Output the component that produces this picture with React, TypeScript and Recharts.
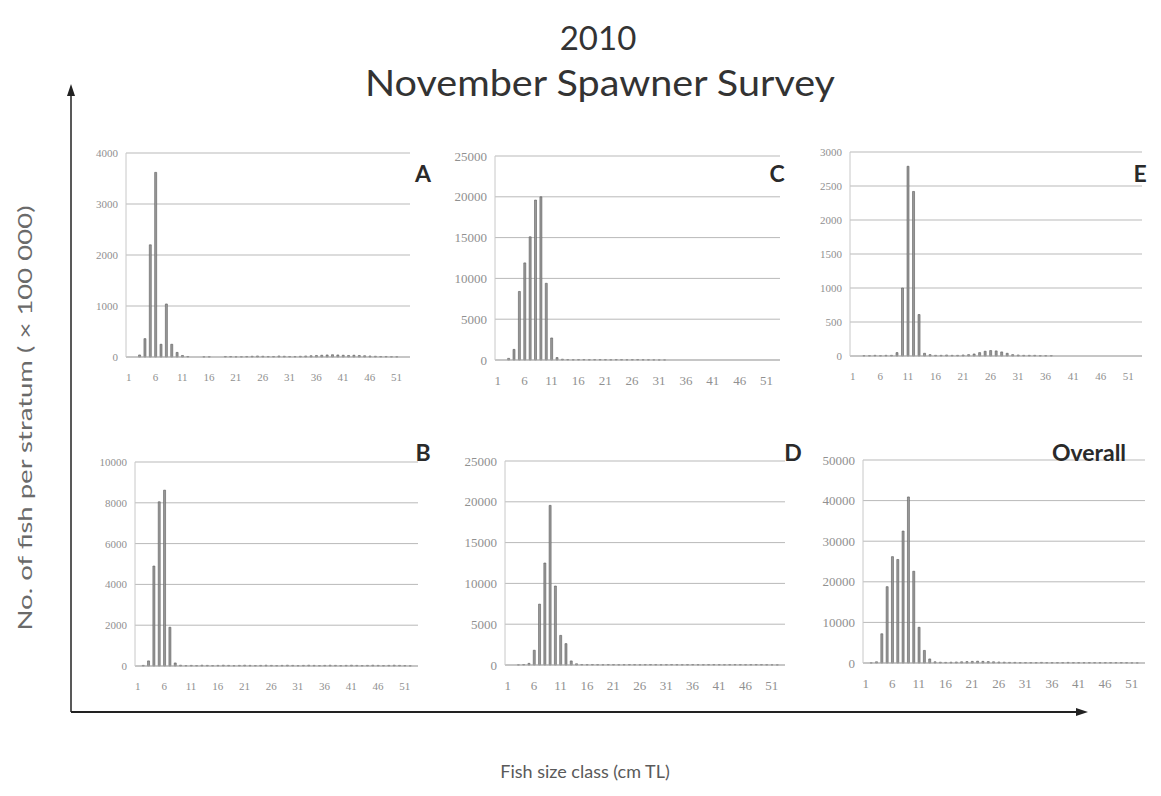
import React from 'react';
import { BarChart, Bar, XAxis, YAxis, CartesianGrid } from 'recharts';

// Fish size classes (cm TL)
const sizeClasses = [
  1, 2, 3, 4, 5, 6, 7, 8, 9, 10, 11, 12, 13, 14, 15, 16, 17, 18, 19, 20,
  21, 22, 23, 24, 25, 26, 27, 28, 29, 30, 31, 32, 33, 34, 35, 36, 37, 38, 39, 40,
  41, 42, 43, 44, 45, 46, 47, 48, 49, 50, 51, 52, 53,
];

// Stratum A (x 100 000 fish)
const stratumA = [
  0, 0, 40, 360, 2200, 3620, 250, 1040, 250, 90, 30, 10, 0, 0, 5, 5, 0, 0, 10, 10,
  5, 5, 10, 15, 20, 15, 10, 10, 20, 15, 10, 10, 15, 20, 25, 30, 35, 40, 45, 40,
  35, 30, 35, 30, 25, 20, 15, 10, 10, 5, 5, 0, 0,
];
// Stratum B
const stratumB = [
  0, 30, 250, 4900, 8050, 8620, 1900, 150, 40, 20, 30, 20, 40, 30, 20, 30, 40, 30, 20, 30,
  40, 30, 20, 30, 40, 30, 20, 30, 40, 30, 20, 30, 40, 30, 20, 30, 40, 30, 20, 30,
  40, 30, 20, 30, 40, 30, 20, 30, 40, 30, 20, 10, 0,
];
// Stratum C
const stratumC = [
  0, 0, 200, 1300, 8400, 11900, 15100, 19600, 20000, 9400, 2700, 300, 100, 60, 40, 50, 60, 40, 50, 60,
  50, 40, 60, 50, 40, 50, 60, 40, 30, 20, 10, 10, 0, 0, 0, 0, 0, 0, 0, 0,
  0, 0, 0, 0, 0, 0, 0, 0, 0, 0, 0, 0, 0,
];
// Stratum D
const stratumD = [
  0, 0, 20, 60, 200, 1810, 7460, 12500, 19560, 9680, 3630, 2620, 500, 150, 60, 50, 60, 50, 40, 60,
  50, 40, 50, 60, 50, 40, 50, 60, 50, 40, 50, 60, 50, 40, 50, 60, 50, 40, 50, 60,
  50, 40, 50, 60, 50, 40, 50, 60, 50, 40, 30, 20, 0,
];
// Stratum E
const stratumE = [
  0, 0, 5, 5, 10, 5, 10, 10, 50, 1000, 2790, 2420, 610, 40, 20, 10, 10, 15, 10, 10,
  15, 20, 30, 50, 70, 80, 75, 60, 40, 20, 15, 10, 10, 10, 5, 5, 5, 0, 0, 0,
  0, 0, 0, 0, 0, 0, 0, 0, 0, 0, 0, 0, 0,
];
// Overall
const overall = [
  0, 50, 300, 7200, 18800, 26200, 25500, 32500, 40900, 22600, 8800, 3100, 1000, 300, 200, 150, 200, 250, 300, 350,
  400, 450, 400, 350, 300, 250, 200, 150, 150, 100, 100, 100, 100, 150, 100, 100, 100, 100, 150, 100,
  100, 100, 100, 100, 100, 100, 100, 100, 100, 80, 50, 30, 0,
];

const ticksA = [0, 1000, 2000, 3000, 4000];
const ticksB = [0, 2000, 4000, 6000, 8000, 10000];
const ticksC = [0, 5000, 10000, 15000, 20000, 25000];
const ticksD = [0, 5000, 10000, 15000, 20000, 25000];
const ticksE = [0, 500, 1000, 1500, 2000, 2500, 3000];
const ticksOverall = [0, 10000, 20000, 30000, 40000, 50000];

const panelLetters = ['A', 'B', 'C', 'D', 'E', 'Overall'];

type PanelProps = {
  data: number[];
  ticks: number[];
  left: number;
  right: number;
  top: number;
  bottom: number;
  fontSize: number;
};

function Panel({ data, ticks, left, right, top, bottom, fontSize }: PanelProps) {
  const yW = 50;
  const mTop = 10;
  const xH = 32;
  const mRight = 4;
  const rows = sizeClasses.map((c, i) => ({ size: c, n: data[i] }));
  const tickStyle = { fontSize, fill: '#909090', fontFamily: 'Liberation Serif, serif' };
  return (
    <div style={{ position: 'absolute', left: left - yW, top: top - mTop }}>
      <BarChart
        width={right - left + yW + mRight}
        height={bottom - top + mTop + xH}
        data={rows}
        margin={{ top: mTop, right: mRight, left: 0, bottom: 0 }}
        barCategoryGap="35%"
      >
        <CartesianGrid vertical={false} stroke="#b9b9b9" />
        <XAxis
          dataKey="size"
          interval={4}
          tickLine={false}
          axisLine={{ stroke: '#b0b0b0' }}
          tick={tickStyle}
          tickMargin={10}
          height={xH}
        />
        <YAxis
          domain={[0, ticks[ticks.length - 1]]}
          ticks={ticks}
          interval={0}
          width={yW}
          tickLine={false}
          axisLine={{ stroke: '#c8c8c8' }}
          tick={tickStyle}
        />
        <Bar dataKey="n" fill="#9a9a9a" stroke="#5a5a5a" strokeWidth={0.6} isAnimationActive={false} />
      </BarChart>
    </div>
  );
}

export default function App() {
  const letterStyle: React.CSSProperties = {
    position: 'absolute',
    fontFamily: 'Lato, sans-serif',
    fontWeight: 700,
    fontSize: 23,
    color: '#2a2a2a',
    lineHeight: 1,
    transform: 'translate(-50%, -50%)',
    whiteSpace: 'nowrap',
  };
  return (
    <div
      style={{
        position: 'absolute',
        left: 0,
        top: 0,
        width: 1161,
        height: 796,
        background: '#ffffff',
        overflow: 'hidden',
      }}
    >
      <svg width={1161} height={796} style={{ position: 'absolute', left: 0, top: 0 }}>
        <text x={598} y={50} textAnchor="middle" fontFamily="Lato, sans-serif" fontSize={33} fill="#333">
          2010
        </text>
        <text
          x={600}
          y={96}
          textAnchor="middle"
          fontFamily="Lato, sans-serif"
          fontSize={36}
          textLength={470}
          lengthAdjust="spacingAndGlyphs"
          fill="#333"
        >
          November Spawner Survey
        </text>
        <line x1={71} y1={712} x2={71} y2={92} stroke="#222" strokeWidth={1.5} />
        <polygon points="71,84 67,96 75,96" fill="#222" />
        <line x1={71} y1={712} x2={1078} y2={712} stroke="#222" strokeWidth={1.8} />
        <polygon points="1088,712 1076,708 1076,716" fill="#222" />
        <text
          x={24}
          y={418}
          transform="rotate(-90, 24, 418)"
          textAnchor="middle"
          dominantBaseline="central"
          fontFamily="Lato, sans-serif"
          fontSize={20}
          textLength={425}
          lengthAdjust="spacingAndGlyphs"
          fill="#6a6a6a"
        >
          No. of fish per stratum ( × 100 000)
        </text>
        <text x={585} y={778} textAnchor="middle" fontFamily="Lato, sans-serif" fontSize={18} fill="#5a5a5a">
          Fish size class (cm TL)
        </text>
      </svg>

      <Panel data={stratumA} ticks={ticksA} left={126} right={410} top={153} bottom={357} fontSize={11} />
      <Panel data={stratumC} ticks={ticksC} left={495} right={780} top={156} bottom={360} fontSize={13} />
      <Panel data={stratumE} ticks={ticksE} left={850} right={1142} top={152} bottom={356} fontSize={11} />
      <Panel data={stratumB} ticks={ticksB} left={135} right={418} top={462} bottom={666} fontSize={11} />
      <Panel data={stratumD} ticks={ticksD} left={505} right={785} top={461} bottom={665} fontSize={13} />
      <Panel data={overall} ticks={ticksOverall} left={863} right={1145} top={460} bottom={663} fontSize={13} />

      <div style={{ ...letterStyle, left: 423, top: 173 }}>{panelLetters[0]}</div>
      <div style={{ ...letterStyle, left: 423, top: 452 }}>{panelLetters[1]}</div>
      <div style={{ ...letterStyle, left: 777, top: 173 }}>{panelLetters[2]}</div>
      <div style={{ ...letterStyle, left: 793, top: 452 }}>{panelLetters[3]}</div>
      <div style={{ ...letterStyle, left: 1140, top: 173 }}>{panelLetters[4]}</div>
      <div style={{ ...letterStyle, left: 1089, top: 452 }}>{panelLetters[5]}</div>
    </div>
  );
}
